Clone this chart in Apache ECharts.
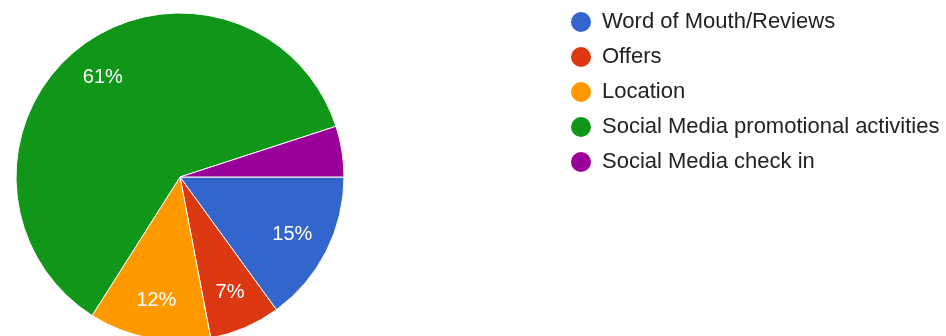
<!DOCTYPE html>
<html>
<head>
<meta charset="utf-8">
<script src="https://cdn.jsdelivr.net/npm/echarts@6/dist/echarts.min.js"></script>
<style>
  html, body { margin: 0; padding: 0; background: #ffffff; }
  #chart { width: 946px; height: 336px; }
</style>
</head>
<body>
<div id="chart"></div>
<script>
// Survey answers: what draws customers in
const categories = [
  'Word of Mouth/Reviews',
  'Offers',
  'Location',
  'Social Media promotional activities',
  'Social Media check in'
];
const shares = [15, 7, 12, 61, 5];
const sliceColors = ['#3366cc', '#dc3912', '#ff9900', '#109618', '#990099'];

const slices = categories.map((name, i) => ({ name, value: shares[i] }));
const center = [180, 177];

const chart = echarts.init(document.getElementById('chart'), null, { renderer: 'canvas' });
chart.setOption({
  animation: false,
  color: sliceColors,
  legend: {
    orient: 'vertical',
    left: 569,
    top: 10,
    padding: 0,
    icon: 'circle',
    itemWidth: 22,
    itemHeight: 22,
    itemGap: 11,
    selectedMode: false,
    textStyle: {
      fontFamily: 'Liberation Sans, Arial, sans-serif',
      fontSize: 22,
      lineHeight: 22,
      color: '#222222',
      padding: [0, 0, 0, 5]
    },
    data: categories
  },
  series: [
    {
      type: 'pie',
      center: center,
      radius: [0, 164],
      startAngle: 0,
      clockwise: true,
      minAngle: 0,
      avoidLabelOverlap: false,
      itemStyle: { borderColor: '#ffffff', borderWidth: 1 },
      label: { show: false },
      labelLine: { show: false },
      emphasis: { disabled: true },
      data: slices
    },
    {
      // transparent ring that only carries the percentage labels
      type: 'pie',
      center: center,
      radius: [82, 164],
      startAngle: 0,
      clockwise: true,
      silent: true,
      avoidLabelOverlap: false,
      itemStyle: { color: 'rgba(0,0,0,0)', borderWidth: 0 },
      label: {
        show: true,
        position: 'inside',
        color: '#ffffff',
        fontFamily: 'Liberation Sans, Arial, sans-serif',
        fontSize: 20,
        formatter: p => (p.percent < 6 ? '' : Math.round(p.percent) + '%')
      },
      labelLine: { show: false },
      emphasis: { disabled: true },
      data: slices
    }
  ]
});
</script>
</body>
</html>
